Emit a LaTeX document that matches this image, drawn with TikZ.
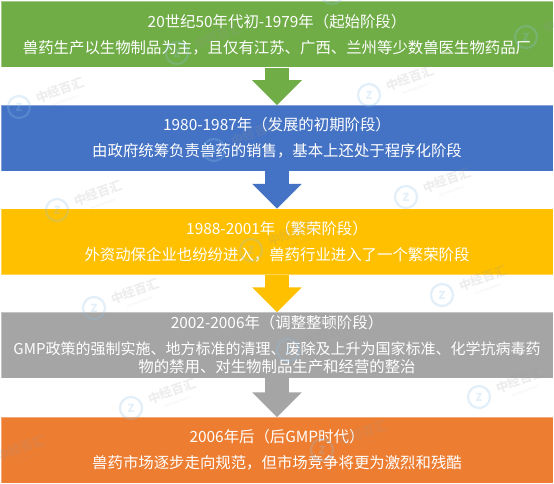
\documentclass[tikz,border=0pt]{standalone}
\usepackage{fontspec}
\setmainfont{Noto Sans CJK SC}
\usetikzlibrary{arrows.meta}
\definecolor{cgreen}{HTML}{70AD47}
\definecolor{cblue}{HTML}{4472C4}
\definecolor{cyellow}{HTML}{FFC000}
\definecolor{cgray}{HTML}{A5A5A5}
\definecolor{corange}{HTML}{ED7D31}
\definecolor{wmblue}{HTML}{8FC3EA}
\definecolor{wmgray}{HTML}{9A9A9A}
\tikzset{
  stagebox/.style={minimum width=552pt,minimum height=66pt,inner sep=0pt,align=center,text=white,
    font=\fontsize{15.4pt}{26pt}\selectfont,fill=#1,draw=white,draw opacity=0.35,line width=0.5pt},
  flowarrow/.style={draw=#1,line width=24pt,-{Triangle[width=48pt,length=25pt,fill=#1]},shorten >=-0.5pt},
  wmring/.style={draw=wmblue,line width=2.2pt,circle,minimum size=22pt,inner sep=0pt,text=wmblue,font=\fontsize{11pt}{11pt}\selectfont\bfseries,opacity=0.25},
  wmtext/.style={text=wmgray,rotate=20,font=\fontsize{12.5pt}{13pt}\selectfont\bfseries,opacity=0.17,inner sep=0pt},
  wmsub/.style={text=wmgray,rotate=20,font=\fontsize{3pt}{3pt}\selectfont,opacity=0.17,inner sep=0pt}
}
\newcommand{\wmark}[3]{%
  \node[wmring] (wr#3) at (#1,#2) {Z};
  \node[wmtext] (wt#3) at (#1+41,#2-17) {中经百汇};
  \node[wmsub] (ws#3) at (#1+46,#2-6) {ZHONGJINGBAIHUI};
}
\begin{document}
\begin{tikzpicture}[x=1pt,y=-1pt]
\useasboundingbox (0,0) rectangle (554,484);
\fill[white] (0,0) rectangle (554,484);
\node[stagebox=cgreen] (s1) at (277,34.5) {20世纪50年代初-1979年（起始阶段）\\兽药生产以生物制品为主，且仅有江苏、广西、兰州等少数兽医生物药品厂};
\node[stagebox=cblue] (s2) at (277,138) {1980-1987年（发展的初期阶段）\\由政府统筹负责兽药的销售，基本上还处于程序化阶段};
\node[stagebox=cyellow] (s3) at (277,241.5) {1988-2001年（繁荣阶段）\\外资动保企业也纷纷进入，兽药行业进入了一个繁荣阶段};
\node[stagebox=cgray] (s4) at (277,345) {2002-2006年（调整整顿阶段）\\{\fontsize{15pt}{26pt}\selectfont GMP政策的强制实施、地方标准的清理、废除及上升为国家标准、化学抗病毒药}\\[-8pt]物的禁用、对生物制品生产和经营的整治};
\node[stagebox=corange] (s5) at (277,450) {2006年后（后GMP时代）\\兽药市场逐步走向规范，但市场竞争将更为激烈和残酷};
\draw[flowarrow=cgreen] (s1.south) -- (s2.north);
\draw[flowarrow=cblue] (s2.south) -- (s3.north);
\draw[flowarrow=cyellow] (s3.south) -- (s4.north);
\draw[flowarrow=cgray] (s4.south) -- (s5.north);
\begin{scope}
\clip (0,0) rectangle (554,484);
\wmark{19}{107}{a}
\wmark{57}{210}{b}
\wmark{94}{308}{c}
\wmark{131}{408}{d}
\wmark{369}{95}{e}
\wmark{406}{197}{f}
\wmark{442}{295}{g}
\wmark{479}{397}{h}
\wmark{177}{53}{i}
\wmark{214}{150}{j}
\wmark{251}{250}{k}
\wmark{288}{350}{l}
\wmark{322}{450}{m}
\wmark{526}{37}{n}
\wmark{-20}{465}{o}
\wmark{332}{-7}{p}
\end{scope}
\end{tikzpicture}
\end{document}
